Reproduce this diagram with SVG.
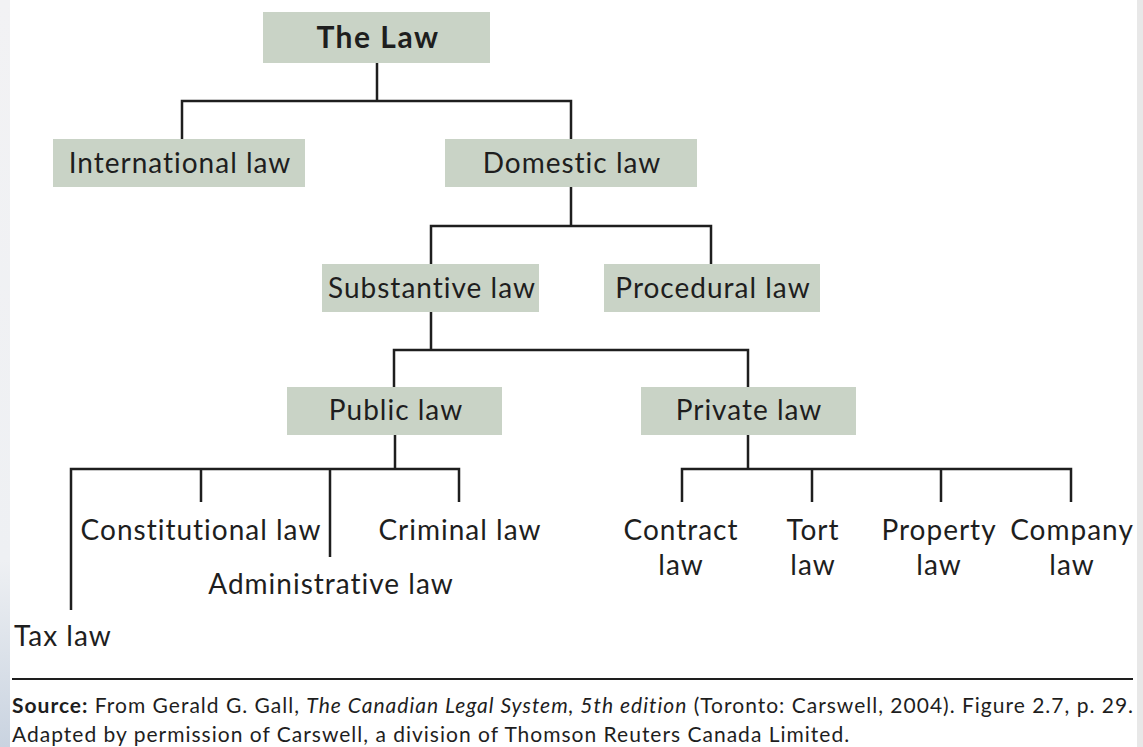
<svg xmlns="http://www.w3.org/2000/svg" width="1143" height="747" viewBox="0 0 1143 747">
<defs>
<linearGradient id="lg" x1="0" y1="0" x2="0" y2="1">
<stop offset="0" stop-color="#f2f2f4"/>
<stop offset="0.75" stop-color="#eef0f3"/>
<stop offset="1" stop-color="#c9d3e0"/>
</linearGradient>
</defs>
<style>
.box{fill:#c9d3c6}
.t{font-family:"Lato","Open Sans",sans-serif;font-size:28px;fill:#1e1e1e;text-anchor:middle;letter-spacing:1px}
.tl{font-family:"Lato","Open Sans",sans-serif;font-size:28px;fill:#1e1e1e;letter-spacing:1px}
.b{font-weight:bold;font-size:30px;letter-spacing:1.5px}
.c{fill:none;stroke:#1e1e1e;stroke-width:2.5}
.s{font-family:"Lato","Open Sans",sans-serif;font-size:21px;fill:#1e1e1e;letter-spacing:1px}
</style>
<rect width="1143" height="747" fill="#ffffff"/>
<rect x="0" y="0" width="10" height="747" fill="url(#lg)"/>
<rect x="1137" y="0" width="6" height="747" fill="#e8e8e8"/>
<g id="connectors" class="c">
<path d="M377,63V101M182,140V101H571V140"/>
<path d="M571,187V226M431,264V226H711V264"/>
<path d="M431,312V350M394,387V350H748V387"/>
<path d="M395,435V469M71,610V469H459V502M201,469V502M330,469V557"/>
<path d="M748,435V469M682,502V469H1071V502M812,469V502M941,469V502"/>
</g>
<g id="n-thelaw"><rect class="box" x="263" y="12" width="227" height="51"/><text class="t b" x="378" y="48">The Law</text></g>
<g id="n-international"><rect class="box" x="53" y="139" width="252" height="48"/><text class="t" x="180" y="173">International law</text></g>
<g id="n-domestic"><rect class="box" x="445" y="139" width="252" height="48"/><text class="t" x="572" y="173">Domestic law</text></g>
<g id="n-substantive"><rect class="box" x="322" y="264" width="217" height="48"/><text class="t" x="432" y="298">Substantive law</text></g>
<g id="n-procedural"><rect class="box" x="604" y="264" width="216" height="48"/><text class="t" x="713" y="298">Procedural law</text></g>
<g id="n-public"><rect class="box" x="287" y="387" width="215" height="48"/><text class="t" x="396" y="420">Public law</text></g>
<g id="n-private"><rect class="box" x="641" y="387" width="215" height="48"/><text class="t" x="749" y="420">Private law</text></g>
<g id="n-constitutional"><text class="t" x="201" y="540">Constitutional law</text></g>
<g id="n-criminal"><text class="t" x="460" y="540">Criminal law</text></g>
<g id="n-administrative"><text class="t" x="331" y="594">Administrative law</text></g>
<g id="n-tax"><text class="tl" x="14" y="646">Tax law</text></g>
<g id="n-contract"><text class="t" x="681" y="540">Contract</text><text class="t" x="681" y="575">law</text></g>
<g id="n-tort"><text class="t" x="813" y="540">Tort</text><text class="t" x="813" y="575">law</text></g>
<g id="n-property"><text class="t" x="939" y="540">Property</text><text class="t" x="939" y="575">law</text></g>
<g id="n-company"><text class="t" x="1072" y="540">Company</text><text class="t" x="1072" y="575">law</text></g>
<line x1="12" y1="679" x2="1133" y2="679" stroke="#1e1e1e" stroke-width="2"/>
<text class="s" x="12" y="713"><tspan font-weight="bold">Source:</tspan> From Gerald G. Gall, <tspan font-style="italic">The Canadian Legal System, 5th edition</tspan> (Toronto: Carswell, 2004). Figure 2.7, p. 29.</text>
<text class="s" x="12" y="742">Adapted by permission of Carswell, a division of Thomson Reuters Canada Limited.</text>
</svg>
